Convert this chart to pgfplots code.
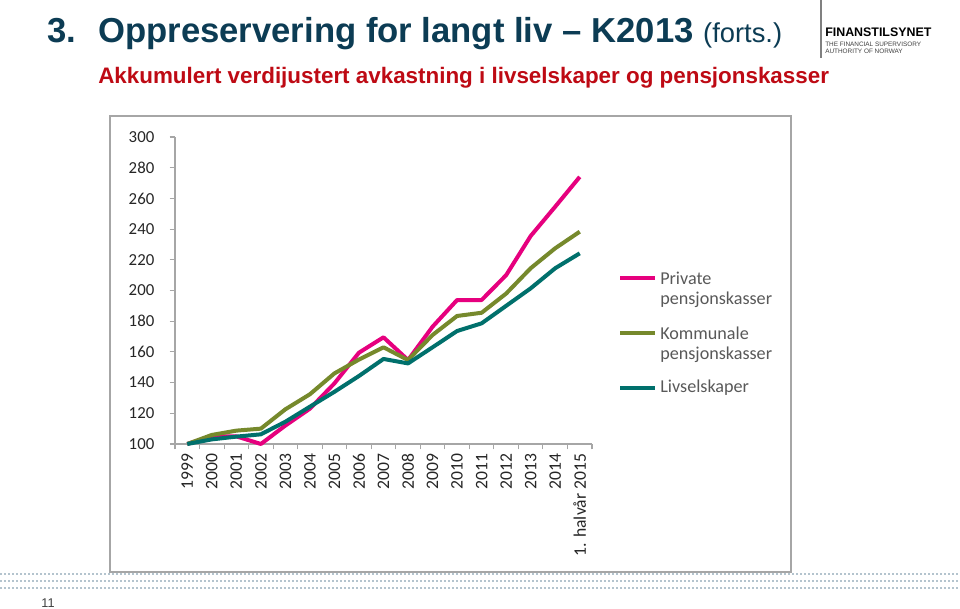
\documentclass[border=0pt]{standalone}
\usepackage{pgfplots}
\pgfplotsset{compat=1.18}
\usepackage{fontspec}
\setmainfont{Liberation Sans}
\newfontfamily\carlito{Carlito}
\definecolor{pinkc}{RGB}{230,0,126}
\definecolor{olivec}{RGB}{118,137,44}
\definecolor{tealc}{RGB}{0,112,108}
\definecolor{titlec}{RGB}{12,60,84}
\definecolor{redc}{RGB}{190,10,20}
\definecolor{axisc}{RGB}{166,166,166}
\definecolor{legc}{RGB}{89,89,89}
\definecolor{dotc}{RGB}{180,196,206}
\begin{document}
\begin{tikzpicture}[x=0.75pt,y=0.75pt]
\path[use as bounding box, fill=white] (0,0) rectangle (960,609);
% dotted footer rows
\foreach \yy in {35,28,21} {\draw[dotc, line width=0.9pt, dash pattern=on 1.2pt off 1.8pt] (0,\yy) -- (960,\yy);}
% frame
\draw[axisc, line width=0.9pt, fill=white] (110,37) rectangle (791,493);
% title
\node[anchor=base west, inner sep=0, text=titlec, font=\fontsize{26}{30}\selectfont\bfseries] at (47,566) {3.};
\node[anchor=base west, inner sep=0, text=titlec, font=\fontsize{26}{30}\selectfont\bfseries] at (98,566) {Oppreservering for langt liv -- K2013 {\mdseries\fontsize{20.5}{24}\selectfont (forts.)}};
\node[anchor=base west, inner sep=0, text=redc, font=\fontsize{16.8}{19}\selectfont\bfseries] at (98,525) {Akkumulert verdijustert avkastning i livselskaper og pensjonskasser};
% logo
\draw[gray, line width=0.8pt] (821,609) -- (821,551);
\node[anchor=base west, inner sep=0, font=\fontsize{9.3}{10}\selectfont\bfseries] at (825,572) {FINANSTILSYNET};
\node[anchor=base west, inner sep=0, text=darkgray, font=\fontsize{4.8}{5}\selectfont] at (825,562) {THE FINANCIAL SUPERVISORY};
\node[anchor=base west, inner sep=0, text=darkgray, font=\fontsize{4.8}{5}\selectfont] at (825,555) {AUTHORITY OF NORWAY};
% page number
\node[anchor=center, inner sep=0, text=darkgray, font=\fontsize{9.5}{10}\selectfont] at (48,6) {11};
\begin{axis}[
  at={(131.25pt,123.75pt)}, anchor=south west,
  scale only axis, width=312.75pt, height=230.25pt,
  xmin=-0.5, xmax=16.5, ymin=100, ymax=300,
  axis x line*=bottom, axis y line*=left,
  axis line style={axisc, line width=0.8pt},
  every tick/.style={axisc, line width=0.8pt},
  tick align=outside,
  major tick length=4pt, minor tick length=4pt,
  ytick={100,120,...,300},
  xtick={0,...,16},
  major x tick style={draw=none},
  minor xtick={-0.5,0.5,...,16.5},
  xticklabels={1999,2000,2001,2002,2003,2004,2005,2006,2007,2008,2009,2010,2011,2012,2013,2014,1. halvår 2015},
  /pgf/number format/assume math mode=true,
  /pgf/number format/1000 sep={},
  tick label style={font=\carlito\fontsize{12.6}{14}\selectfont, text=black!85},
  x tick label style={rotate=90, anchor=east, font=\carlito\fontsize{13.2}{14}\selectfont},
  y tick label style={anchor=east, xshift=-8pt},
  clip=false,
]
\addplot[pinkc, line width=3pt, line join=round] coordinates {
(0,100) (1,105) (2,105) (3,100) (4,112) (5,123) (6,139.5) (7,159.5) (8,169.5) (9,154.7) (10,176.4) (11,193.8) (12,193.8) (13,210) (14,235.5) (15,254.6) (16,274)};
\addplot[olivec, line width=3pt, line join=round] coordinates {
(0,100) (1,105.9) (2,108.7) (3,110) (4,122.6) (5,132.4) (6,146) (7,155) (8,163) (9,154.7) (10,171) (11,183.4) (12,185.5) (13,198) (14,214.5) (15,227.5) (16,238.3)};
\addplot[tealc, line width=3pt, line join=round] coordinates {
(0,100) (1,103) (2,104.8) (3,106.3) (4,114.5) (5,124.3) (6,134) (7,144.3) (8,155.4) (9,152.5) (10,163) (11,173.6) (12,178.6) (13,190) (14,201.4) (15,214.5) (16,224.2)};
\end{axis}
% legend
\begin{scope}[font=\carlito\fontsize{13.6}{16.5}\selectfont]
\draw[pinkc, line width=3pt] (620,331) -- (655,331);
\node[anchor=west, inner sep=0, text=legc, align=left] at (660,331) {Private};
\node[anchor=west, inner sep=0, text=legc] at (660,309) {pensjonskasser};
\draw[olivec, line width=3pt] (620,276) -- (655,276);
\node[anchor=west, inner sep=0, text=legc] at (660,276) {Kommunale};
\node[anchor=west, inner sep=0, text=legc] at (660,254) {pensjonskasser};
\draw[tealc, line width=3pt] (620,221) -- (655,221);
\node[anchor=west, inner sep=0, text=legc] at (660,221) {Livselskaper};
\end{scope}
\end{tikzpicture}
\end{document}
